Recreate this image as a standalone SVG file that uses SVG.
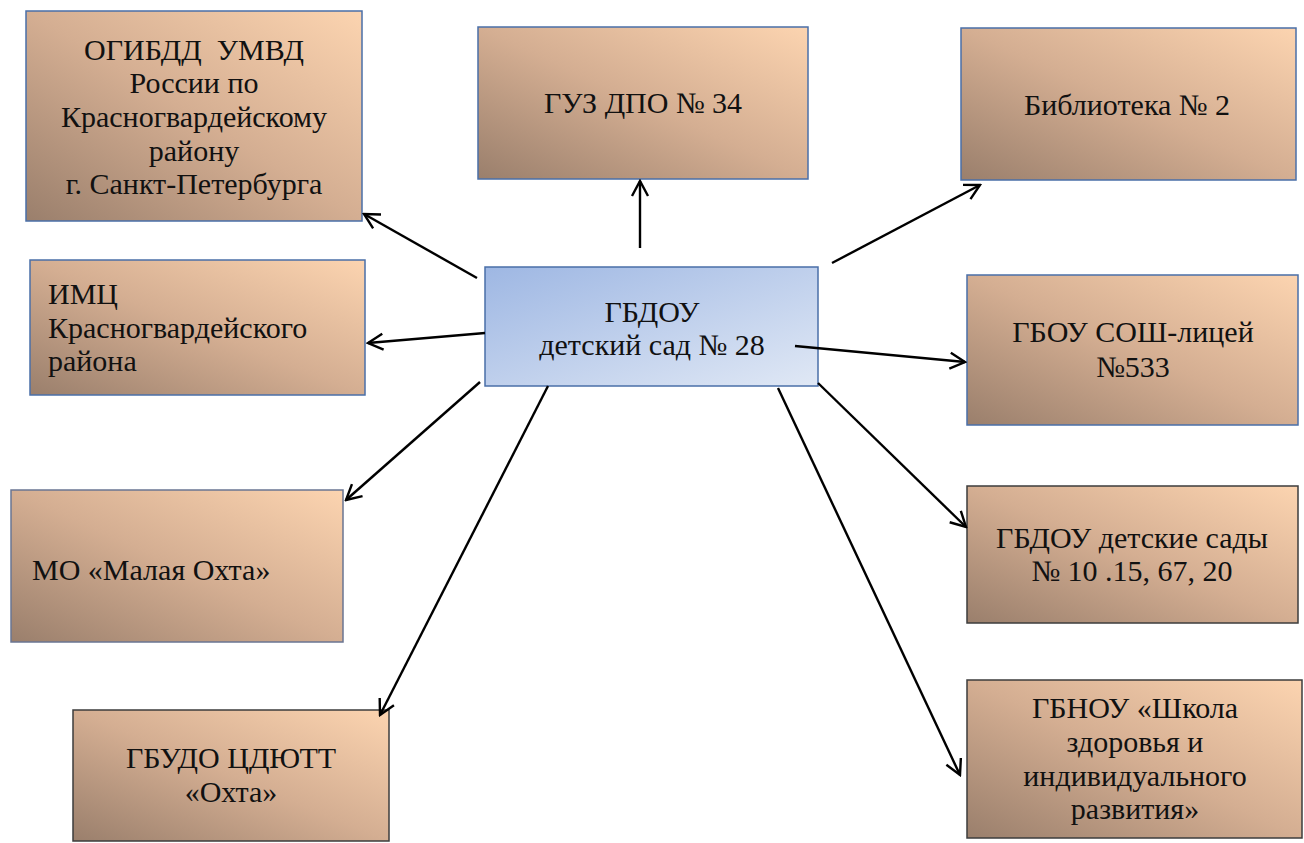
<svg xmlns="http://www.w3.org/2000/svg" width="1304" height="843" viewBox="0 0 1304 843">
<defs>
<linearGradient id="tan" x1="0" y1="1" x2="1" y2="0">
<stop offset="0" stop-color="#9a7f6c"/>
<stop offset="0.5" stop-color="#d4ae92"/>
<stop offset="1" stop-color="#fcd4b0"/>
</linearGradient>
<linearGradient id="blue" x1="0" y1="0" x2="1" y2="1">
<stop offset="0" stop-color="#9eb7e3"/>
<stop offset="1" stop-color="#e0e8f5"/>
</linearGradient>
<marker id="arr" viewBox="0 0 20 20" refX="18" refY="10" markerWidth="20" markerHeight="20" markerUnits="userSpaceOnUse" orient="auto">
<path d="M3,2 L18,10 L3,18" fill="none" stroke="#000" stroke-width="2.4"/>
</marker>
</defs>
<rect width="1304" height="843" fill="#fff"/>

<g id="n-ogibdd">
<rect x="26" y="11" width="336" height="210" fill="url(#tan)" stroke="#4a6fa8" stroke-width="1.5"/>
<text x="194" y="60" font-family="Liberation Serif, serif" font-size="30" text-anchor="middle" fill="#111" xml:space="preserve">ОГИБДД  УМВД</text>
<text x="194" y="93" font-family="Liberation Serif, serif" font-size="30" text-anchor="middle" fill="#111">России по</text>
<text x="194" y="127" font-family="Liberation Serif, serif" font-size="30" text-anchor="middle" fill="#111">Красногвардейскому</text>
<text x="194" y="161" font-family="Liberation Serif, serif" font-size="30" text-anchor="middle" fill="#111">району</text>
<text x="194" y="194" font-family="Liberation Serif, serif" font-size="30" text-anchor="middle" fill="#111">г. Санкт-Петербурга</text>
</g>

<g id="n-guz">
<rect x="478" y="27" width="330" height="152" fill="url(#tan)" stroke="#4a6fa8" stroke-width="1.5"/>
<text x="643" y="113" font-family="Liberation Serif, serif" font-size="30" text-anchor="middle" fill="#111">ГУЗ ДПО № 34</text>
</g>

<g id="n-bibl">
<rect x="961" y="28" width="335" height="152" fill="url(#tan)" stroke="#4a6fa8" stroke-width="1.5"/>
<text x="1127" y="115" font-family="Liberation Serif, serif" font-size="30" text-anchor="middle" fill="#111">Библиотека № 2</text>
</g>

<g id="n-imc">
<rect x="30" y="260" width="335" height="135" fill="url(#tan)" stroke="#4a6fa8" stroke-width="1.5"/>
<text x="48" y="304" font-family="Liberation Serif, serif" font-size="30" fill="#111">ИМЦ</text>
<text x="48" y="338" font-family="Liberation Serif, serif" font-size="30" fill="#111">Красногвардейского</text>
<text x="48" y="371" font-family="Liberation Serif, serif" font-size="30" fill="#111">района</text>
</g>

<g id="n-center">
<rect x="485" y="267" width="333" height="119" fill="url(#blue)" stroke="#4a6fa8" stroke-width="1.5"/>
<text x="652" y="322" font-family="Liberation Serif, serif" font-size="30" text-anchor="middle" fill="#111">ГБДОУ</text>
<text x="652" y="355" font-family="Liberation Serif, serif" font-size="30" text-anchor="middle" fill="#111">детский сад № 28</text>
</g>

<g id="n-sosh">
<rect x="967" y="275" width="331" height="150" fill="url(#tan)" stroke="#4a6fa8" stroke-width="1.5"/>
<text x="1133" y="342" font-family="Liberation Serif, serif" font-size="30" text-anchor="middle" fill="#111">ГБОУ СОШ-лицей</text>
<text x="1133" y="377" font-family="Liberation Serif, serif" font-size="30" text-anchor="middle" fill="#111">№533</text>
</g>

<g id="n-mo">
<rect x="11" y="490" width="332" height="152" fill="url(#tan)" stroke="#6a7592" stroke-width="1.5"/>
<text x="32" y="580" font-family="Liberation Serif, serif" font-size="30" fill="#111">МО «Малая Охта»</text>
</g>

<g id="n-sady">
<rect x="967" y="486" width="331" height="137" fill="url(#tan)" stroke="#3c3c3c" stroke-width="1.5"/>
<text x="1132" y="548" font-family="Liberation Serif, serif" font-size="30" text-anchor="middle" fill="#111">ГБДОУ детские сады</text>
<text x="1132" y="581" font-family="Liberation Serif, serif" font-size="30" text-anchor="middle" fill="#111">№ 10 .15, 67, 20</text>
</g>

<g id="n-gbudo">
<rect x="73" y="710" width="316" height="131" fill="url(#tan)" stroke="#3c3c3c" stroke-width="1.5"/>
<text x="231" y="768" font-family="Liberation Serif, serif" font-size="30" text-anchor="middle" fill="#111">ГБУДО ЦДЮТТ</text>
<text x="231" y="802" font-family="Liberation Serif, serif" font-size="30" text-anchor="middle" fill="#111">«Охта»</text>
</g>

<g id="n-gbnou">
<rect x="967" y="680" width="335" height="158" fill="url(#tan)" stroke="#3c3c3c" stroke-width="1.5"/>
<text x="1135" y="718" font-family="Liberation Serif, serif" font-size="30" text-anchor="middle" fill="#111">ГБНОУ «Школа</text>
<text x="1135" y="752" font-family="Liberation Serif, serif" font-size="30" text-anchor="middle" fill="#111">здоровья и</text>
<text x="1135" y="786" font-family="Liberation Serif, serif" font-size="30" text-anchor="middle" fill="#111">индивидуального</text>
<text x="1135" y="819" font-family="Liberation Serif, serif" font-size="30" text-anchor="middle" fill="#111">развития»</text>
</g>

<g id="connectors" stroke="#000" stroke-width="2.4" marker-end="url(#arr)">
<line x1="477" y1="278" x2="364" y2="214"/>
<line x1="640" y1="248" x2="640" y2="181"/>
<line x1="832" y1="263" x2="980" y2="185"/>
<line x1="485" y1="333" x2="368" y2="343"/>
<line x1="795" y1="346" x2="965" y2="362"/>
<line x1="480" y1="382" x2="346" y2="500"/>
<line x1="548" y1="386" x2="380" y2="715"/>
<line x1="818" y1="383" x2="966" y2="527"/>
<line x1="778" y1="388" x2="960" y2="775"/>
</g>
</svg>
